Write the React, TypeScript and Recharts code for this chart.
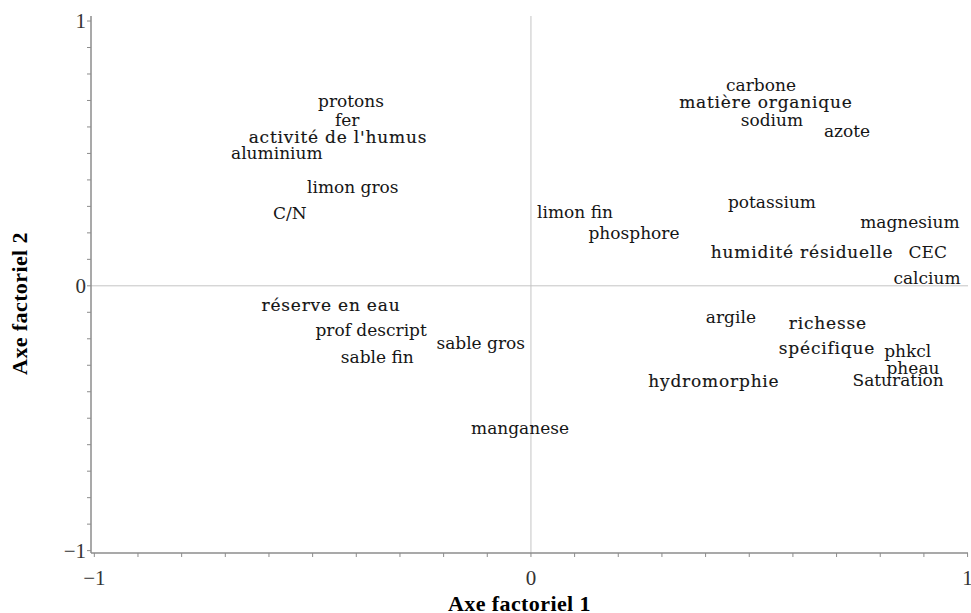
import React from 'react';
import { ScatterChart, Scatter, XAxis, YAxis, ReferenceLine, Label } from 'recharts';

const variableNames = [
  'protons', 'fer', "activité de l'humus", 'aluminium', 'limon gros', 'C/N',
  'réserve en eau', 'prof descript', 'sable gros', 'sable fin', 'manganese',
  'carbone', 'matière organique', 'sodium', 'azote', 'limon fin', 'phosphore',
  'potassium', 'magnesium', 'humidité résiduelle', 'CEC', 'calcium', 'argile',
  'richesse', 'spécifique', 'phkcl', 'pheau', 'Saturation', 'hydromorphie',
];
const factor1 = [
  -0.412, -0.421, -0.442, -0.582, -0.408, -0.552,
  -0.458, -0.366, -0.115, -0.352, -0.025,
  0.527, 0.538, 0.552, 0.724, 0.101, 0.236,
  0.552, 0.868, 0.621, 0.909, 0.907, 0.458,
  0.680, 0.678, 0.863, 0.875, 0.841, 0.419,
];
const factor2 = [
  0.697, 0.627, 0.561, 0.501, 0.372, 0.274,
  -0.073, -0.167, -0.216, -0.269, -0.537,
  0.757, 0.693, 0.625, 0.584, 0.278, 0.199,
  0.316, 0.240, 0.127, 0.127, 0.029, -0.118,
  -0.140, -0.235, -0.246, -0.310, -0.356, -0.359,
];
const axisTicks = [
  -1, -0.9, -0.8, -0.7, -0.6, -0.5, -0.4, -0.3, -0.2, -0.1, 0,
  0.1, 0.2, 0.3, 0.4, 0.5, 0.6, 0.7, 0.8, 0.9, 1,
];
const labeledTicks = [-1, 0, 1];
const xTitle = 'Axe factoriel 1';
const yTitle = 'Axe factoriel 2';

const data = variableNames.map((name, i) => ({ name, x: factor1[i], y: factor2[i] }));

// Labels that the reference typesets in a heavier, wider face
const HEAVY_LABELS = new Set([
  "activité de l'humus", 'réserve en eau', 'matière organique',
  'humidité résiduelle', 'richesse', 'spécifique', 'hydromorphie',
]);

const X_DOMAIN: [number, number] = [-1.0076, 1.001];
const Y_DOMAIN: [number, number] = [-1.009, 1.019];

const fmt = (v: number) => (v < 0 ? '\u2212' + String(Math.abs(v)) : String(v));
const isLabeled = (v: number) => labeledTicks.some((t) => Math.abs(t - v) < 1e-9);

const tickFont = { fontFamily: '"Liberation Serif", "Times New Roman", serif', fontSize: 21, fill: '#333' };

const XTick = (props: any) => {
  const { x, y, payload } = props;
  if (!isLabeled(payload.value)) return <g />;
  return (
    <text x={x} y={y} dy={26} textAnchor="middle" {...tickFont}>
      {fmt(payload.value)}
    </text>
  );
};

const YTick = (props: any) => {
  const { x, y, payload } = props;
  if (!isLabeled(payload.value)) return <g />;
  return (
    <text x={x + 1} y={y} dy={7} textAnchor="end" {...tickFont}>
      {fmt(payload.value)}
    </text>
  );
};

const LabelShape = (props: any) => {
  const { cx, cy, payload } = props;
  const heavy = HEAVY_LABELS.has(payload.name);
  return (
    <text
      x={cx}
      y={cy}
      textAnchor="middle"
      dominantBaseline="central"
      fontFamily='"DejaVu Serif", serif'
      fontSize={17}
      fill="#151515"
      stroke={heavy ? '#151515' : 'none'}
      strokeWidth={heavy ? 0.15 : 0}
      letterSpacing={heavy ? 0.8 : 0}
    >
      {payload.name}
    </text>
  );
};

const titleFont = {
  fontFamily: '"Liberation Serif", "Times New Roman", serif',
  fontSize: 22,
  fontWeight: 700,
  letterSpacing: 0.4,
  fill: '#000',
};

const XTitle = (props: any) => {
  const vb = props.viewBox || { x: 91, y: 553, width: 877, height: 60 };
  return (
    <text x={vb.x + vb.width / 2 - 10} y={vb.y + 58} textAnchor="middle" {...titleFont}>
      {xTitle}
    </text>
  );
};

const YTitle = (props: any) => {
  const vb = props.viewBox || { x: 0, y: 16, width: 91, height: 537 };
  const cx = vb.x + 27;
  const cy = vb.y + vb.height / 2 + 19;
  return (
    <text x={cx} y={cy} transform={`rotate(-90, ${cx}, ${cy})`} textAnchor="middle" {...titleFont}>
      {yTitle}
    </text>
  );
};

export default function App() {
  return (
    <div style={{ position: 'absolute', left: 0, top: 0, width: 971, height: 613, background: '#fff' }}>
      <ScatterChart width={971} height={613} margin={{ top: 16, right: 3, bottom: 0, left: 0 }}>
        <XAxis
          type="number"
          dataKey="x"
          domain={X_DOMAIN}
          ticks={axisTicks}
          allowDataOverflow
          interval={0}
          height={60}
          tickSize={4}
          tickMargin={2}
          axisLine={{ stroke: '#8c8c8c', strokeWidth: 1.5 }}
          tickLine={{ stroke: '#8c8c8c' }}
          tick={<XTick />}
        >
          <Label content={<XTitle />} />
        </XAxis>
        <YAxis
          type="number"
          dataKey="y"
          domain={Y_DOMAIN}
          ticks={axisTicks}
          allowDataOverflow
          interval={0}
          width={91}
          tickSize={4}
          tickMargin={2}
          axisLine={{ stroke: '#8c8c8c', strokeWidth: 1.5 }}
          tickLine={{ stroke: '#8c8c8c' }}
          tick={<YTick />}
        >
          <Label content={<YTitle />} />
        </YAxis>
        <XAxis
          xAxisId="top"
          orientation="top"
          type="number"
          domain={X_DOMAIN}
          allowDataOverflow
          height={0}
          tick={false}
          tickLine={false}
          axisLine={{ stroke: '#a8a8a8' }}
        />
        <YAxis
          yAxisId="right"
          orientation="right"
          type="number"
          domain={Y_DOMAIN}
          allowDataOverflow
          width={0}
          tick={false}
          tickLine={false}
          axisLine={{ stroke: '#a8a8a8' }}
        />
        <ReferenceLine x={0} stroke="#c4c4c4" strokeWidth={1} />
        <ReferenceLine y={0} stroke="#c4c4c4" strokeWidth={1} />
        <Scatter data={data} shape={<LabelShape />} isAnimationActive={false} />
      </ScatterChart>
    </div>
  );
}
